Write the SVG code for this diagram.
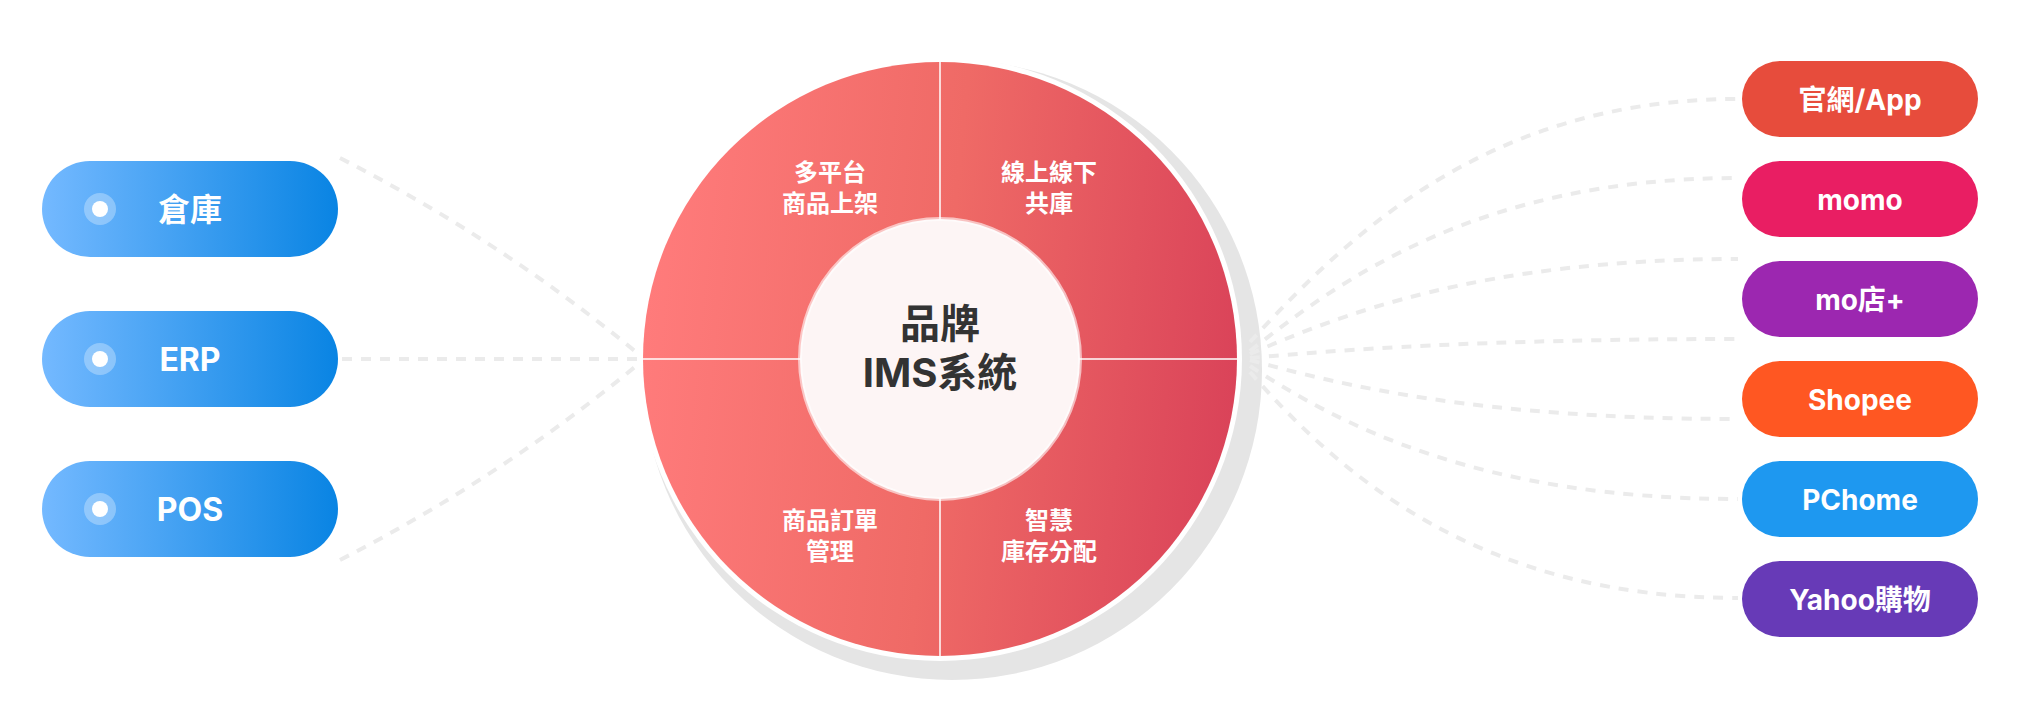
<svg xmlns="http://www.w3.org/2000/svg" width="2029" height="724" viewBox="0 0 2029 724">
  <defs>
    <linearGradient id="blueGrad" x1="0" y1="0" x2="1" y2="0">
      <stop offset="0" stop-color="#74B9FF"/>
      <stop offset="1" stop-color="#0984E3"/>
    </linearGradient>
    <linearGradient id="redGrad" x1="0" y1="0.45" x2="1" y2="0.55">
      <stop offset="0" stop-color="#FF7B7B"/>
      <stop offset="0.5" stop-color="#EF6A66"/>
      <stop offset="1" stop-color="#DA4359"/>
    </linearGradient>
    <style>
      .lbl { font-family: "Inter", "Noto Sans CJK TC", sans-serif; font-weight: 700; fill: #FFFFFF; text-anchor: middle; }
      .left-txt { font-size: 32px; }
      .right-txt { font-size: 28px; }
      .quad { font-family: "Noto Sans CJK TC", sans-serif; font-weight: 700; font-size: 24px; fill: #FFFFFF; text-anchor: middle; }
      .center-txt { font-family: "Inter", "Noto Sans CJK TC", sans-serif; font-weight: 700; font-size: 40px; fill: #333333; text-anchor: middle; }
      .conn { fill: none; stroke: #EBEBEB; stroke-width: 4; stroke-dasharray: 10 9; }
      .divider { stroke: #FFFFFF; stroke-opacity: 0.75; stroke-width: 2; }
      .dot-outer { fill: #FFFFFF; fill-opacity: 0.3; }
      .dot-inner { fill: #FFFFFF; }
    </style>
  </defs>

  <rect x="0" y="0" width="2029" height="724" fill="#FFFFFF"/>

  <!-- shadow behind hub -->
  <circle id="hub-shadow" cx="952" cy="370" r="310" fill="#E5E5E5"/>

  <!-- connectors -->
  <g id="connectors">
    <path class="conn" d="M340,158 Q500,240 636,352"/>
    <path class="conn" d="M342,359 L637,359"/>
    <path class="conn" d="M340,560 Q500,478 636,366"/>
    <path class="conn" d="M1250,342 C1340,245 1480,99 1738,99"/>
    <path class="conn" d="M1250,351 C1340,280 1480,178 1738,178"/>
    <path class="conn" d="M1250,354 C1340,315 1480,259 1738,259"/>
    <path class="conn" d="M1250,358 C1340,350 1480,339 1738,339"/>
    <path class="conn" d="M1250,360 C1340,385 1480,419 1738,419"/>
    <path class="conn" d="M1250,366 C1340,425 1480,499 1738,499"/>
    <path class="conn" d="M1250,372 C1340,475 1480,598 1738,598"/>
  </g>

  <!-- hub -->
  <g id="hub">
    <circle cx="940" cy="359" r="302" fill="#FFFFFF"/>
    <circle cx="940" cy="359" r="297" fill="url(#redGrad)"/>
    <line class="divider" x1="940" y1="62" x2="940" y2="656"/>
    <line class="divider" x1="643" y1="359" x2="1237" y2="359"/>
    <circle cx="940" cy="359" r="140" fill="#FDF5F5" stroke="#FFFFFF" stroke-opacity="0.6" stroke-width="4"/>
    <text class="center-txt" x="940" y="338">品牌</text>
    <text class="center-txt" x="940" y="387">IMS系統</text>
  </g>

  <g id="quad-listing">
    <text class="quad" x="830" y="181">多平台</text>
    <text class="quad" x="830" y="212">商品上架</text>
  </g>
  <g id="quad-shared-stock">
    <text class="quad" x="1049" y="181">線上線下</text>
    <text class="quad" x="1049" y="212">共庫</text>
  </g>
  <g id="quad-orders">
    <text class="quad" x="830" y="529">商品訂單</text>
    <text class="quad" x="830" y="560">管理</text>
  </g>
  <g id="quad-allocation">
    <text class="quad" x="1049" y="529">智慧</text>
    <text class="quad" x="1049" y="560">庫存分配</text>
  </g>

  <!-- left nodes -->
  <g id="node-warehouse">
    <rect x="42" y="161" width="296" height="96" rx="48" fill="url(#blueGrad)"/>
    <circle class="dot-outer" cx="100" cy="209" r="16"/>
    <circle class="dot-inner" cx="100" cy="209" r="8"/>
    <text class="lbl left-txt" x="190" y="221">倉庫</text>
  </g>
  <g id="node-erp">
    <rect x="42" y="311" width="296" height="96" rx="48" fill="url(#blueGrad)"/>
    <circle class="dot-outer" cx="100" cy="359" r="16"/>
    <circle class="dot-inner" cx="100" cy="359" r="8"/>
    <text class="lbl left-txt" x="190" y="371">ERP</text>
  </g>
  <g id="node-pos">
    <rect x="42" y="461" width="296" height="96" rx="48" fill="url(#blueGrad)"/>
    <circle class="dot-outer" cx="100" cy="509" r="16"/>
    <circle class="dot-inner" cx="100" cy="509" r="8"/>
    <text class="lbl left-txt" x="190" y="521">POS</text>
  </g>

  <!-- right nodes -->
  <g id="node-official">
    <rect x="1742" y="61" width="236" height="76" rx="38" fill="#E74C3C"/>
    <text class="lbl right-txt" x="1860" y="110">官網/App</text>
  </g>
  <g id="node-momo">
    <rect x="1742" y="161" width="236" height="76" rx="38" fill="#E91E63"/>
    <text class="lbl right-txt" x="1860" y="210">momo</text>
  </g>
  <g id="node-mo-store">
    <rect x="1742" y="261" width="236" height="76" rx="38" fill="#9C27B0"/>
    <text class="lbl right-txt" x="1860" y="310">mo店+</text>
  </g>
  <g id="node-shopee">
    <rect x="1742" y="361" width="236" height="76" rx="38" fill="#FF5722"/>
    <text class="lbl right-txt" x="1860" y="410">Shopee</text>
  </g>
  <g id="node-pchome">
    <rect x="1742" y="461" width="236" height="76" rx="38" fill="#1E98F0"/>
    <text class="lbl right-txt" x="1860" y="510">PChome</text>
  </g>
  <g id="node-yahoo">
    <rect x="1742" y="561" width="236" height="76" rx="38" fill="#673AB7"/>
    <text class="lbl right-txt" x="1860" y="610">Yahoo購物</text>
  </g>
</svg>
